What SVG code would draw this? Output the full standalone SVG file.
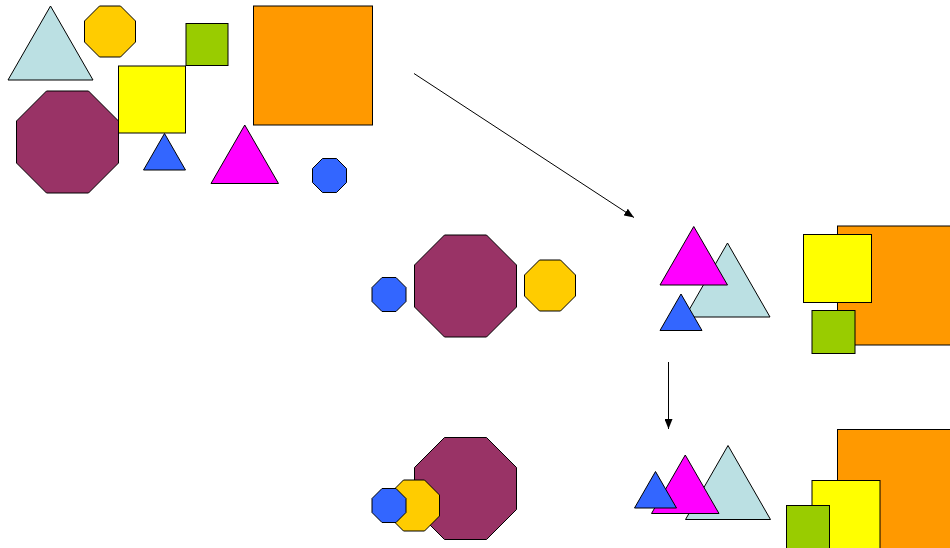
<svg xmlns="http://www.w3.org/2000/svg" xmlns:xlink="http://www.w3.org/1999/xlink" width="950" height="548" viewBox="0 0 950 548">
  <style>
    .shape { stroke: #000; stroke-width: 1; stroke-linejoin: miter; }
    .maroon { fill: #993366; }
    .gold { fill: #FFCC00; }
    .blue { fill: #3366FF; }
    .pale { fill: #BBE0E3; }
    .magenta { fill: #FF00FF; }
    .orange { fill: #FF9900; }
    .yellow { fill: #FFFF00; }
    .green { fill: #99CC00; }
    .connector { stroke: #000; stroke-width: 1; fill: none; }
  </style>
  <defs>
    <!-- octagons in three sizes, origin at top-left of bounding box -->
    <polygon id="octL" points="30,0 72,0 102,30 102,72 72,102 30,102 0,72 0,30"/>
    <polygon id="octM" points="15,0 36,0 51,15 51,36 36,51 15,51 0,36 0,15"/>
    <polygon id="octS" points="10,0 24,0 34,10 34,24 24,34 10,34 0,24 0,10"/>
    <!-- triangles in three sizes -->
    <polygon id="triL" points="42.5,0 85,74 0,74"/>
    <polygon id="triM" points="33.75,0 67.5,58.5 0,58.5"/>
    <polygon id="triS" points="21,0 42,36.5 0,36.5"/>
    <marker id="arrow" markerWidth="10" markerHeight="8" refX="10" refY="4" orient="auto" markerUnits="userSpaceOnUse">
      <path d="M0,0 L10,4 L0,8 Z" fill="#000"/>
    </marker>
  </defs>

  <!-- scattered set -->
  <g id="scatter">
    <g id="s-pale-tri"><use xlink:href="#triL" class="shape pale" transform="translate(8,6)"/></g>
    <g id="s-gold-oct"><use xlink:href="#octM" class="shape gold" transform="translate(84.5,6)"/></g>
    <g id="s-green-sq"><rect class="shape green" x="186" y="23.5" width="42" height="42"/></g>
    <g id="s-yellow-sq"><rect class="shape yellow" x="118.5" y="66" width="67" height="67"/></g>
    <g id="s-orange-sq"><rect class="shape orange" x="253.5" y="6" width="119" height="119"/></g>
    <g id="s-maroon-oct"><use xlink:href="#octL" class="shape maroon" transform="translate(16.5,91)"/></g>
    <g id="s-blue-tri"><use xlink:href="#triS" class="shape blue" transform="translate(143.5,133.5)"/></g>
    <g id="s-magenta-tri"><use xlink:href="#triM" class="shape magenta" transform="translate(211,125)"/></g>
    <g id="s-blue-oct"><use xlink:href="#octS" class="shape blue" transform="translate(312.5,158.5)"/></g>
  </g>

  <!-- grouped by kind -->
  <g id="sorted">
    <g id="m-blue-oct"><use xlink:href="#octS" class="shape blue" transform="translate(372,277.5)"/></g>
    <g id="m-maroon-oct"><use xlink:href="#octL" class="shape maroon" transform="translate(414.5,235)"/></g>
    <g id="m-gold-oct"><use xlink:href="#octM" class="shape gold" transform="translate(524.5,260)"/></g>
    <g id="m-pale-tri"><use xlink:href="#triL" class="shape pale" transform="translate(685,243)"/></g>
    <g id="m-magenta-tri"><use xlink:href="#triM" class="shape magenta" transform="translate(660,226.5)"/></g>
    <g id="m-blue-tri"><use xlink:href="#triS" class="shape blue" transform="translate(660,294)"/></g>
    <g id="m-orange-sq"><rect class="shape orange" x="837.5" y="226" width="119" height="119"/></g>
    <g id="m-yellow-sq"><rect class="shape yellow" x="803.5" y="234.5" width="68" height="68"/></g>
    <g id="m-green-sq"><rect class="shape green" x="812" y="310.5" width="43" height="43"/></g>
  </g>

  <!-- grouped and ordered by size -->
  <g id="ordered">
    <g id="b-maroon-oct"><use xlink:href="#octL" class="shape maroon" transform="translate(414.5,437.5)"/></g>
    <g id="b-gold-oct"><use xlink:href="#octM" class="shape gold" transform="translate(388.5,480)"/></g>
    <g id="b-blue-oct"><use xlink:href="#octS" class="shape blue" transform="translate(372,488.5)"/></g>
    <g id="b-pale-tri"><use xlink:href="#triL" class="shape pale" transform="translate(685.5,445.5)"/></g>
    <g id="b-magenta-tri"><use xlink:href="#triM" class="shape magenta" transform="translate(651.5,455)"/></g>
    <g id="b-blue-tri"><use xlink:href="#triS" class="shape blue" transform="translate(634.5,471.5)"/></g>
    <g id="b-orange-sq"><rect class="shape orange" x="837.5" y="429.5" width="119" height="119"/></g>
    <g id="b-yellow-sq"><rect class="shape yellow" x="812" y="480.5" width="68" height="68"/></g>
    <g id="b-green-sq"><rect class="shape green" x="786.5" y="505.5" width="43" height="43"/></g>
  </g>

  <g id="connectors">
    <line class="connector" x1="414" y1="73.5" x2="634" y2="217.5" marker-end="url(#arrow)"/>
    <line class="connector" x1="668.5" y1="362" x2="668.5" y2="429" marker-end="url(#arrow)"/>
  </g>
</svg>
